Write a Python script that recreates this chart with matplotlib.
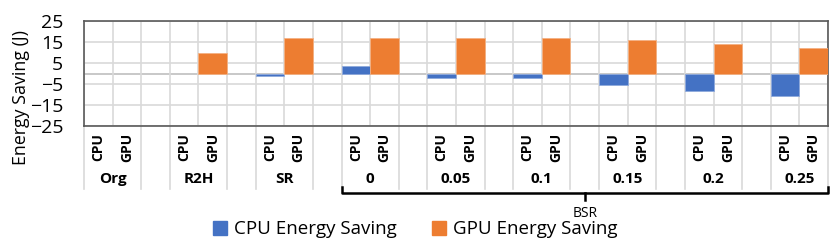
import numpy as np
import matplotlib
matplotlib.use('Agg')
import matplotlib.pyplot as plt
from matplotlib.patches import Patch

groups = ['Org', 'R2H', 'SR', '0', '0.05', '0.1', '0.15', '0.2', '0.25']
cpu_saving = [np.nan, np.nan, -1, 3.5, -2, -2, -5.5, -8.5, -10.5]
gpu_saving = [np.nan, 10, 17, 17, 17, 17, 16, 14, 12]
sub_labels = ['CPU', 'GPU']
bsr_start = 3  # index of first BSR group

plt.rcParams['font.family'] = ['Open Sans', 'DejaVu Sans']

blue = '#4472C4'
orange = '#ED7D31'
grid_c = '#d9d9d9'
dark = '#595959'

fig = plt.figure(figsize=(8.3, 2.4), dpi=100)
ax = fig.add_axes([0.1012, 0.475, 0.8964, 0.4375])

n_cat = len(groups) * 3 - 1
cpu_x = np.arange(len(groups)) * 3
gpu_x = cpu_x + 1

ax.bar(cpu_x, cpu_saving, width=1, align='edge', color=blue, edgecolor='#8faadc', linewidth=0.6, zorder=3)
ax.bar(gpu_x, gpu_saving, width=1, align='edge', color=orange, edgecolor='#f4b183', linewidth=0.6, zorder=3)

ax.set_xlim(0, n_cat)
ax.set_ylim(-25, 25)
ax.set_yticks([25, 15, 5, -5, -15, -25])
ax.set_xticks(range(n_cat + 1))
ax.set_xticklabels([])
ax.tick_params(axis='x', length=0)
ax.tick_params(axis='y', length=0, labelsize=14, pad=15, colors='#000000')
ax.grid(True, color=grid_c, linewidth=1.2, zorder=0)
ax.axhline(0, color='#bfbfbf', linewidth=1.2, zorder=1)
for s in ax.spines.values():
    s.set_color(dark)
    s.set_linewidth(1.2)
ax.set_ylabel('Energy Saving (J)', fontsize=12.8, va='center')
ax.yaxis.set_label_coords(-0.085, 0.267)

tr = ax.get_xaxis_transform()
for g, name in enumerate(groups):
    x0 = g * 3
    for k, lab in enumerate(sub_labels):
        ax.text(x0 + k + 0.5, -0.2, lab, transform=tr, rotation=90, ha='center', va='center',
                fontsize=10, fontweight='bold')
    ax.text(x0 + 1, -0.505, name, transform=tr, ha='center', va='center',
            fontsize=11, fontweight='bold')
    for xl in (x0, x0 + 2):
        ax.plot([xl, xl], [0, -0.6], transform=tr, color=grid_c, lw=1.2, clip_on=False)

# BSR bracket
bx0 = bsr_start * 3
bx1 = n_cat
bm = (bx0 + bx1) / 2
ax.plot([bx0, bx0, bx1, bx1], [-0.58, -0.64, -0.64, -0.58], transform=tr, color='black', lw=1.8, clip_on=False)
ax.plot([bm, bm], [-0.64, -0.7], transform=tr, color='black', lw=1.8, clip_on=False)
ax.text(bm, -0.83, 'BSR', transform=tr, ha='center', va='center', fontsize=10)

handles = [Patch(color=blue, label='CPU Energy Saving'), Patch(color=orange, label='GPU Energy Saving')]
fig.legend(handles=handles, loc='center', bbox_to_anchor=(0.5, 0.045), ncol=2, frameon=False,
           fontsize=13.5, handlelength=0.75, handleheight=0.75, handletextpad=0.35, columnspacing=1.9)

fig.savefig('out.png', dpi=100)
